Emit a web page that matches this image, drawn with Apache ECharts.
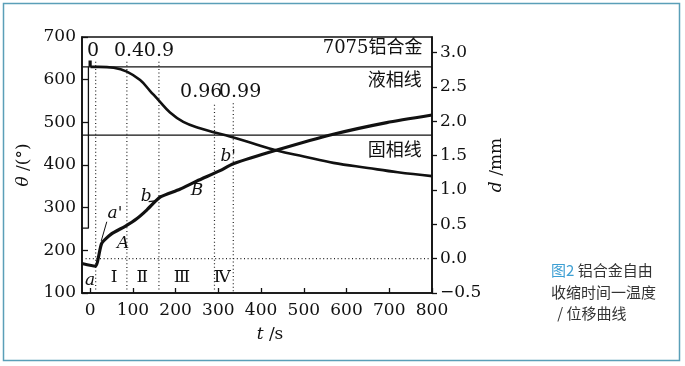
<!DOCTYPE html>
<html><head><meta charset="utf-8">
<script src="https://cdn.jsdelivr.net/npm/echarts/dist/echarts.min.js"></script>
<style>html,body{margin:0;padding:0;background:#fff}#main{width:685px;height:366px}</style>
</head><body><div id="main"></div>
<script>
// ---- data ----
var spikeT = [0, 0];
var spikeV = [645, 630];
var tempT = [1, 20, 55, 86, 117, 140, 160, 187, 218, 257, 289, 327, 380, 437, 500, 569, 650, 720, 800];
var tempV = [630, 630, 628, 619, 599, 574, 552, 523, 501, 486, 477, 467, 451, 434, 420, 405, 393, 383, 374];
var dispT = [-19, 12, 27, 50, 82, 109, 133, 152, 165, 210, 250, 304, 335, 437, 569, 694, 800];
var dispV = [-0.07, -0.11, 0.22, 0.36, 0.47, 0.58, 0.71, 0.83, 0.9, 1.01, 1.13, 1.28, 1.38, 1.58, 1.81, 1.98, 2.09];
var liquidus = 630;
var solidus = 470;
var boxT = [-19, -4, -4];
var boxV = [252, 252, 630];
var fractionLabels = ['0', '0.4', '0.9', '0.96', '0.99'];
var fractionT = [13, 86, 161, 291, 335];
var fractionTop = [642, 642, 642, 541, 545];
var fractionLabelT = [7, 91, 161, 260, 351];
var fractionLabelV = [666, 666, 666, 571, 571];
var titleLabels = ['7075铝合金', '液相线', '固相线'];
var titleT = [661, 713, 713];
var titleV = [674, 595, 431];
var regionLabels = ['Ⅰ', 'Ⅱ', 'Ⅲ', 'Ⅳ'];
var regionT = [56, 122, 215, 309];
var regionV = [135, 135, 135, 135];
var pointLabels = ['a', "a'", 'A', 'b', 'B', "b'"];
var pointT = [0, 58, 77, 131, 250, 323];
var pointV = [130, 287, 217, 327, 341, 419];
var leaderA = [[39, 267], [26, 222]];
var leaderB = [[137, 314], [152, 316]];
var xTicks = [0, 100, 200, 300, 400, 500, 600, 700, 800];
var leftTicks = [100, 200, 300, 400, 500, 600, 700];
var rightTicks = [-0.5, 0, 0.5, 1.0, 1.5, 2.0, 2.5, 3.0];
var X_MIN = -19, X_MAX = 800, D_MAX = 3.225;

// ---- chart ----
var serif = '"DejaVu Serif", "Noto Sans CJK SC", serif';
function zip(a, b) { return a.map(function (v, i) { return [v, b[i]]; }); }
var ink = '#111';
var dotted = { color: '#222', width: 1.2, type: [1, 2.6] };
var series = [];

series.push({ type: 'line', data: [[X_MIN, liquidus], [X_MAX, liquidus]], symbol: 'none', lineStyle: { color: ink, width: 1.3 }, silent: true, z: 2 });
series.push({ type: 'line', data: [[X_MIN, solidus], [X_MAX, solidus]], symbol: 'none', lineStyle: { color: ink, width: 1.3 }, silent: true, z: 2 });
series.push({ type: 'line', data: zip(boxT, boxV), symbol: 'none', lineStyle: { color: ink, width: 1.3 }, silent: true, z: 2 });
series.push({ type: 'line', yAxisIndex: 1, data: [[X_MIN, 0], [X_MAX, 0]], symbol: 'none', lineStyle: dotted, silent: true, z: 2 });
fractionT.forEach(function (t, i) {
  series.push({ type: 'line', data: [[t, fractionTop[i]], [t, 100]], symbol: 'none', lineStyle: dotted, silent: true, z: 2 });
});
series.push({ type: 'line', data: zip(spikeT, spikeV), symbol: 'none', lineStyle: { color: ink, width: 3.2 }, z: 4 });
series.push({ type: 'line', data: zip(tempT, tempV), symbol: 'none', smooth: 0.4, lineStyle: { color: ink, width: 2.6 }, z: 4 });
series.push({ type: 'line', yAxisIndex: 1, data: zip(dispT, dispV), symbol: 'none', smooth: 0.2, lineStyle: { color: ink, width: 3.2 }, z: 4 });
series.push({ type: 'line', data: leaderA, symbol: 'none', lineStyle: { color: ink, width: 1 }, z: 3 });
series.push({ type: 'line', data: leaderB, symbol: 'none', lineStyle: { color: ink, width: 1.2 }, z: 3 });

function textSeries(labels, ts, vs, extra) {
  var lab = { show: true, position: [0, 0], formatter: function (p) { return p.name; }, color: ink, fontFamily: serif, fontSize: 17, align: 'center', verticalAlign: 'middle', textBorderWidth: 0, textBorderColor: 'transparent' };
  if (extra) { for (var k in extra) lab[k] = extra[k]; }
  return {
    type: 'scatter', symbolSize: 0, silent: true, z: 6,
    itemStyle: { color: ink, opacity: 1 },
    data: labels.map(function (s, i) { return { name: s, value: [ts[i], vs[i]] }; }),
    label: lab
  };
}
series.push(textSeries(fractionLabels, fractionLabelT, fractionLabelV, { fontSize: 19 }));
series.push(textSeries(titleLabels, titleT, titleV, { fontSize: 18 }));
series.push(textSeries(regionLabels, regionT, regionV, { fontSize: 17 }));
series.push(textSeries(pointLabels, pointT, pointV, { fontStyle: 'italic', fontSize: 17 }));

var option = {
  backgroundColor: '#fff',
  animation: false,
  grid: { left: 82, right: 253, top: 37, bottom: 73, show: true, borderColor: ink, borderWidth: 1.6, backgroundColor: 'transparent' },
  xAxis: {
    type: 'value', min: X_MIN, max: X_MAX,
    axisLine: { onZero: false, lineStyle: { color: ink, width: 1.6 } },
    axisTick: { inside: true, length: 5, customValues: xTicks, lineStyle: { color: ink, width: 1.3 } },
    axisLabel: { customValues: xTicks, color: ink, fontFamily: serif, fontSize: 17, margin: 9 },
    splitLine: { show: false },
    name: '{i|t} /s', nameLocation: 'middle', nameGap: 33, nameMoveOverlap: false,
    nameTextStyle: { color: ink, fontFamily: serif, fontSize: 17, padding: [0, 0, 0, 26], rich: { i: { fontStyle: 'italic', fontFamily: serif, fontSize: 17, color: ink } } }
  },
  yAxis: [{
    type: 'value', min: 100, max: 700,
    axisLine: { show: true, onZero: false, lineStyle: { color: ink, width: 1.6 } },
    axisTick: { show: true, inside: true, length: 6, customValues: leftTicks, lineStyle: { color: ink, width: 1.3 } },
    axisLabel: { customValues: leftTicks, color: ink, fontFamily: serif, fontSize: 17, margin: 6 },
    splitLine: { show: false },
    name: '{i|θ} /(°)', nameLocation: 'middle', nameGap: 50, nameRotate: 90, nameMoveOverlap: false,
    nameTextStyle: { color: ink, fontFamily: serif, fontSize: 17, rich: { i: { fontStyle: 'italic', fontFamily: serif, fontSize: 17, color: ink } } }
  }, {
    type: 'value', min: -0.5, max: D_MAX, position: 'right',
    axisLine: { show: true, onZero: false, lineStyle: { color: ink, width: 1.6 } },
    axisTick: { show: true, inside: false, length: 5, customValues: rightTicks, lineStyle: { color: ink, width: 1.3 } },
    axisLabel: { customValues: rightTicks, color: ink, fontFamily: serif, fontSize: 17, margin: 8, formatter: function (v) { return v.toFixed(1).replace('-', '−'); } },
    splitLine: { show: false },
    name: '{i|d} /mm', nameLocation: 'middle', nameGap: 56, nameRotate: 90, nameMoveOverlap: false,
    nameTextStyle: { color: ink, fontFamily: serif, fontSize: 17, rich: { i: { fontStyle: 'italic', fontFamily: serif, fontSize: 17, color: ink } } }
  }],
  series: series,
  graphic: [
    { type: 'rect', shape: { x: 3.5, y: 3.5, width: 676, height: 357 }, style: { fill: 'none', stroke: '#5a9fb8', lineWidth: 1.5 }, silent: true },
    { type: 'text', style: { x: 551, y: 270, verticalAlign: 'middle', text: '{b|图2} 铝合金自由', fill: '#333', fontSize: 15, fontFamily: '"Noto Sans CJK SC"', rich: { b: { fill: '#3d9fd3', fontSize: 15, fontFamily: '"Noto Sans CJK SC"' } } } },
    { type: 'text', style: { x: 551, y: 292, verticalAlign: 'middle', text: '收缩时间一温度', fill: '#333', fontSize: 15, fontFamily: '"Noto Sans CJK SC"' } },
    { type: 'text', style: { x: 554, y: 313, verticalAlign: 'middle', text: ' / 位移曲线', fill: '#333', fontSize: 15, fontFamily: '"Noto Sans CJK SC"' } }
  ]
};
var chart = echarts.init(document.getElementById('main'));
window.chart = chart;
chart.setOption(option);
</script>
</body></html>
